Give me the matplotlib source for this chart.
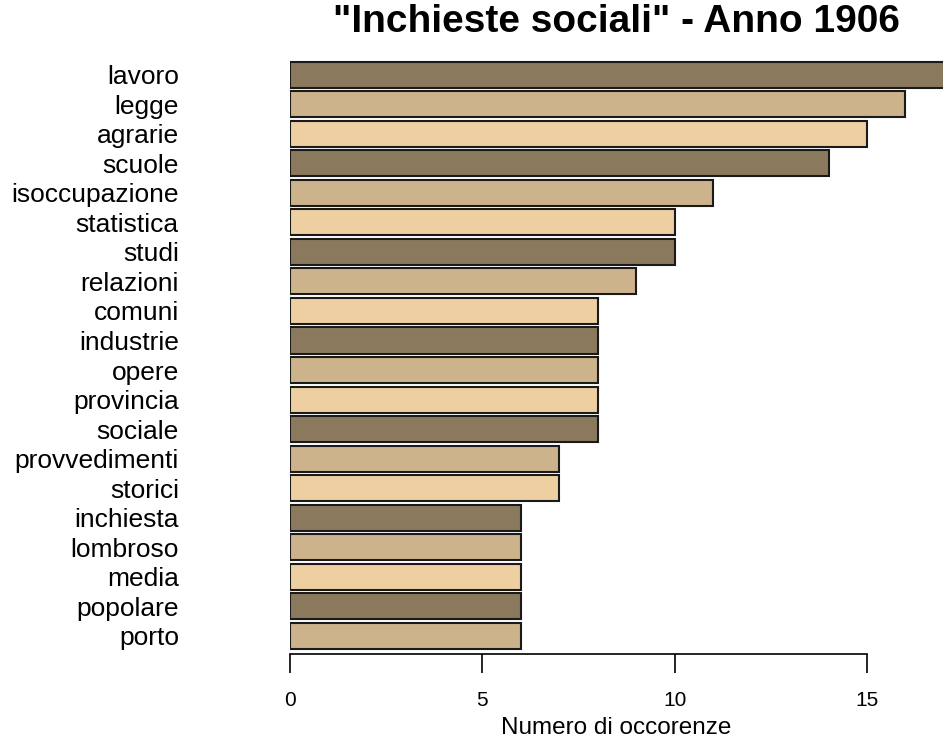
import numpy as np
import matplotlib.pyplot as plt

plt.rcParams['font.family'] = ['Liberation Sans', 'DejaVu Sans']

parole = ['lavoro', 'legge', 'agrarie', 'scuole', 'isoccupazione', 'statistica',
          'studi', 'relazioni', 'comuni', 'industrie', 'opere', 'provincia',
          'sociale', 'provvedimenti', 'storici', 'inchiesta', 'lombroso',
          'media', 'popolare', 'porto']
occorrenze = [17, 16, 15, 14, 11, 10, 10, 9, 8, 8, 8, 8, 8, 7, 7, 6, 6, 6, 6, 6]
colori = ['#8B795E', '#CDB38B', '#EECFA1']

W, H = 943, 740
fig = plt.figure(figsize=(W / 100, H / 100), dpi=100)
ax = fig.add_axes([290 / W, (H - 654) / H, 1 - 290 / W, (654 - 40) / H])

y = np.arange(len(parole))
cols = [colori[i % 3] for i in range(len(parole))]
ax.barh(y, occorrenze, height=0.88, color=cols, edgecolor='#1a1a1a', linewidth=1.5)

ax.set_ylim(19.61, -1.17)
ax.set_xlim(0, 16.975)

ax.set_yticks(y)
ax.set_yticklabels(parole, fontsize=19)
ax.tick_params(axis='y', length=0, pad=80)

ax.set_xticks([0, 5, 10, 15])
ax.tick_params(axis='x', length=13.5, width=1.2, pad=13, labelsize=15)
for s in ['top', 'right', 'left']:
    ax.spines[s].set_visible(False)
ax.spines['bottom'].set_bounds(0, 15)
ax.spines['bottom'].set_linewidth(1.2)

ax.set_xlabel('Numero di occorenze', fontsize=17.5, labelpad=5)
ax.set_title('"Inchieste sociali" - Anno 1906', fontsize=28, fontweight='bold', pad=6)

fig.savefig('out.png', dpi=100)
